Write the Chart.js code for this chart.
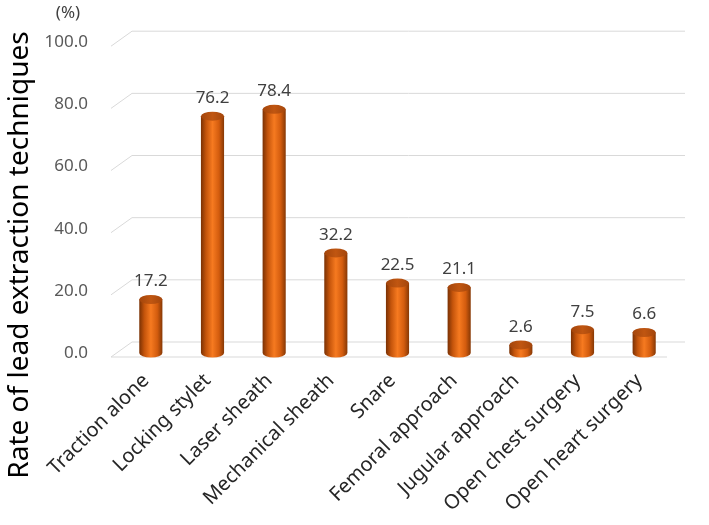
<!DOCTYPE html>
<html lang="en">
<head>
    <meta charset="UTF-8">
    <title>Rate of lead extraction techniques</title>
    <script src="https://cdn.jsdelivr.net/npm/chart.js"></script>
    <style>
        body {
            margin: 0;
            background: #ffffff;
        }
        .chart-box {
            width: 709px;
            height: 525px;
        }
    </style>
</head>
<body>
    <div class="chart-box">
        <canvas id="rateChart"></canvas>
    </div>

    <script>
        const techniques = [
            'Traction alone', 'Locking stylet', 'Laser sheath', 'Mechanical sheath', 'Snare',
            'Femoral approach', 'Jugular approach', 'Open chest surgery', 'Open heart surgery'
        ];
        const rates = [17.2, 76.2, 78.4, 32.2, 22.5, 21.1, 2.6, 7.5, 6.6];
        const yMin = 0;
        const yMax = 100;
        const yStep = 20;
        const yTitle = 'Rate of lead extraction techniques';
        const yUnit = '(%)';

        const FONT = '"Noto Sans", sans-serif';

        // cylinder bars, drawn on top of the (invisible) bar elements
        function drawCylinder(ctx, x, top, base, w) {
            const rx = w / 2;
            const ry = 4.5;
            const body = ctx.createLinearGradient(x - rx, 0, x + rx, 0);
            body.addColorStop(0, '#7a3104');
            body.addColorStop(0.22, '#c4540b');
            body.addColorStop(0.5, '#f67a20');
            body.addColorStop(0.78, '#d35c0e');
            body.addColorStop(1, '#863805');
            ctx.beginPath();
            ctx.moveTo(x - rx, top);
            ctx.lineTo(x - rx, base);
            ctx.ellipse(x, base, rx, ry, 0, Math.PI, 0, true);
            ctx.lineTo(x + rx, top);
            ctx.closePath();
            ctx.fillStyle = body;
            ctx.fill();

            const cap = ctx.createLinearGradient(x - rx, 0, x + rx, 0);
            cap.addColorStop(0, '#a3450b');
            cap.addColorStop(0.5, '#c05611');
            cap.addColorStop(1, '#a4460c');
            ctx.beginPath();
            ctx.ellipse(x, top, rx, ry, 0, 0, Math.PI * 2);
            ctx.fillStyle = cap;
            ctx.fill();
        }

        const wallPlugin = {
            id: 'wall',
            beforeDatasetsDraw(chart) {
                const ctx = chart.ctx;
                const area = chart.chartArea;
                const y = chart.scales.y;
                ctx.save();
                ctx.strokeStyle = '#d9d9d9';
                ctx.lineWidth = 1;
                for (let v = yMin; v <= yMax; v += yStep) {
                    const py = y.getPixelForValue(v);
                    ctx.beginPath();
                    ctx.moveTo(area.left - 9, py + 4);
                    ctx.lineTo(area.left + 12, py - 11);
                    ctx.lineTo(area.right + 10, py - 11);
                    if (v === yMin) {
                        ctx.moveTo(area.left - 9, py + 4);
                        ctx.lineTo(area.right - 8, py + 4);
                    }
                    ctx.stroke();
                }
                ctx.restore();
            },
            afterDatasetsDraw(chart) {
                const ctx = chart.ctx;
                const meta = chart.getDatasetMeta(0);
                ctx.save();
                meta.data.forEach((bar, i) => {
                    const p = bar.getProps(['x', 'y', 'base', 'width'], true);
                    drawCylinder(ctx, p.x, p.y, p.base, p.width);
                    ctx.fillStyle = '#404040';
                    ctx.font = '17px ' + FONT;
                    ctx.textAlign = 'center';
                    ctx.textBaseline = 'middle';
                    ctx.fillText(rates[i].toFixed(1), p.x, p.y - 18);
                });
                // unit label and axis title
                ctx.fillStyle = '#404040';
                ctx.font = '17px ' + FONT;
                ctx.textAlign = 'center';
                ctx.textBaseline = 'middle';
                ctx.fillText(yUnit, 68, 13);
                ctx.translate(20, 255);
                ctx.rotate(-Math.PI / 2);
                ctx.fillStyle = '#000000';
                ctx.font = '28px ' + FONT;
                ctx.fillText(yTitle, 0, 0);
                ctx.restore();
            }
        };

        const ctx = document.getElementById('rateChart').getContext('2d');
        new Chart(ctx, {
            type: 'bar',
            data: {
                labels: techniques,
                datasets: [{
                    data: rates,
                    backgroundColor: 'rgba(0,0,0,0)',
                    borderWidth: 0,
                    categoryPercentage: 1,
                    barPercentage: 0.375
                }]
            },
            options: {
                responsive: true,
                maintainAspectRatio: false,
                animation: false,
                layout: {
                    padding: { left: 0, right: 34, top: 37, bottom: 0 }
                },
                plugins: {
                    legend: { display: false },
                    tooltip: { enabled: false }
                },
                scales: {
                    x: {
                        grid: { display: false },
                        border: { display: false },
                        ticks: {
                            minRotation: 45,
                            maxRotation: 45,
                            padding: 8,
                            labelOffset: -5,
                            color: '#262626',
                            font: { family: FONT, size: 20 }
                        },
                        afterFit: s => { s.height = 172; }
                    },
                    y: {
                        min: yMin,
                        max: yMax,
                        grid: { display: false, drawTicks: false },
                        border: { display: false },
                        ticks: {
                            stepSize: yStep,
                            padding: 32,
                            color: '#595959',
                            font: { family: FONT, size: 17 },
                            callback: v => v.toFixed(1)
                        },
                        afterFit: s => { s.width = 120; }
                    }
                }
            },
            plugins: [wallPlugin]
        });
    </script>
</body>
</html>
